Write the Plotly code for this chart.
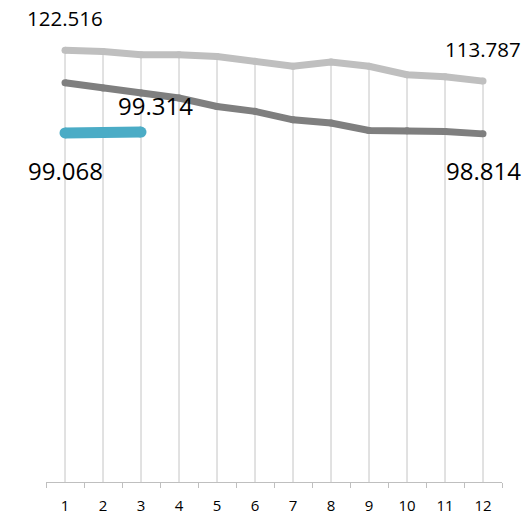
import plotly.graph_objects as go

# categories on the x axis
months = [str(i) for i in range(1, 13)]

# series values
upper = [122.516, 122.2, 121.3, 121.3, 120.8, 119.4, 118.0, 119.2, 118.0, 115.6, 115.0, 113.787]
middle = [113.3, 111.8, 110.4, 109.0, 106.6, 105.2, 102.8, 101.9, 99.8, 99.7, 99.5, 98.814]
short = [99.068, 99.2, 99.314]

font_name = "Open Sans"

fig = go.Figure()

# drop lines from each point of the top series down to the axis
drop_x, drop_y = [], []
for m, v in zip(months, upper):
    drop_x += [m, m, None]
    drop_y += [0, v, None]
fig.add_trace(go.Scatter(x=drop_x, y=drop_y, mode="lines",
                         line=dict(color="#C4C4C4", width=1),
                         hoverinfo="skip", showlegend=False))

# the three series (markers give the round caps / joins)
for vals, color, width in [(upper, "#BFBFBF", 7),
                           (middle, "#7F7F7F", 7),
                           (short, "#4BACC6", 11)]:
    fig.add_trace(go.Scatter(
        x=months[:len(vals)], y=vals, mode="lines+markers",
        line=dict(color=color, width=width),
        marker=dict(color=color, size=width, line=dict(width=0)),
        showlegend=False,
    ))

# data labels: (category index, value, x offset, y offset, font size)
labels = [
    (0, upper[0], 0, -32, 20.5),
    (11, upper[-1], 0, -32, 20.5),
    (2, short[-1], 14, -27, 24),
    (0, short[0], 0, 38, 24),
    (11, middle[-1], 0, 37, 24),
]
for x, y, dx, dy, size in labels:
    fig.add_annotation(x=x, y=y, text=f"{y:.3f}", showarrow=False,
                       xshift=dx, yshift=-dy,
                       font=dict(family=font_name, size=size, color="#000000"))

fig.update_layout(
    width=529, height=515,
    margin=dict(l=46, r=27, t=24, b=33),
    paper_bgcolor="white", plot_bgcolor="white",
    font=dict(family=font_name, size=15, color="#000000"),
    xaxis=dict(type="category", range=[-0.5, 11.5],
               showgrid=False, zeroline=False, automargin=False,
               showline=True, linecolor="#BFBFBF", linewidth=1,
               ticks="outside", tickson="boundaries", ticklen=5,
               tickcolor="#BFBFBF", tickfont=dict(size=15),
               ticklabelstandoff=10),
    yaxis=dict(range=[0, 130], visible=False, showgrid=False, zeroline=False),
)

# drop the page's default body margin so the figure sits at the window's corner
fig.write_html("out.html", config={"displayModeBar": False},
               post_script="document.body.style.margin='0';")
